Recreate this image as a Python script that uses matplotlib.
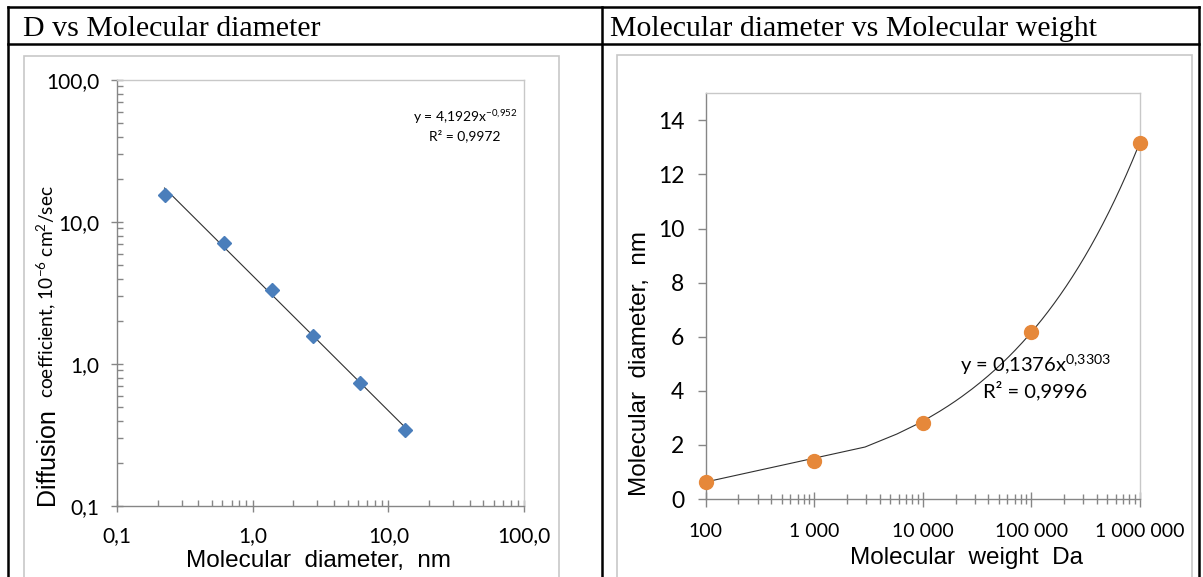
import numpy as np
import matplotlib
matplotlib.use("Agg")
import matplotlib.pyplot as plt
from matplotlib.lines import Line2D
from matplotlib.patches import Rectangle
from matplotlib.ticker import FixedLocator, FuncFormatter, LogLocator, NullFormatter

plt.rcParams['mathtext.fontset'] = 'custom'
plt.rcParams['mathtext.rm'] = 'Lato'
plt.rcParams['mathtext.it'] = 'Lato:italic'
plt.rcParams['mathtext.bf'] = 'Lato:bold'

# ---- data ----
diam_nm = [0.225, 0.619, 1.40, 2.79, 6.14, 13.2]
diff_coef = [15.4, 7.14, 3.34, 1.57, 0.734, 0.344]
fit1_a, fit1_b = 4.1929, -0.952

mol_weight = [100, 1000, 10000, 100000, 1000000]
mol_diam = [0.62, 1.39, 2.81, 6.19, 13.18]
fit2_a, fit2_b = 0.1376, 0.3303

left_ticks = [0.1, 1, 10, 100]
right_xticks = [100, 1000, 10000, 100000, 1000000]
right_yticks = [0, 2, 4, 6, 8, 10, 12, 14]

W, H = 1203, 577
AXIS_GRAY = '#868686'
FRAME_GRAY = '#C8C8C8'
TICK_FONT = 'Lato'
LABEL_FONT = 'Liberation Sans'


def fx(x):
    return x / W


def fy(y):
    return 1 - y / H


def ax_rect(x0, x1, top, bottom):
    return [fx(x0), fy(bottom), (x1 - x0) / W, (bottom - top) / H]


fig = plt.figure(figsize=(W / 100, H / 100), dpi=100)

# ---- table frame ----
for (x0, y0, x1, y1) in [(8, 7, 1199, 7), (8, 44, 1199, 44),
                         (8, 7, 8, 577), (602, 7, 602, 577), (1199, 7, 1199, 577)]:
    fig.add_artist(Line2D([fx(x0), fx(x1)], [fy(y0), fy(y1)], color='black',
                          lw=1.8, transform=fig.transFigure))
fig.text(fx(23), fy(36), 'D vs Molecular diameter', family='Liberation Serif',
         fontsize=21.5, va='baseline', ha='left')
fig.text(fx(610), fy(36), 'Molecular diameter vs Molecular weight',
         family='Liberation Serif', fontsize=21.5, va='baseline', ha='left')

# chart boxes
for (x0, x1, top) in [(24, 559, 56), (617, 1192, 55)]:
    fig.add_artist(Rectangle((fx(x0), fy(600)), (x1 - x0) / W, (600 - top) / H,
                             fill=False, edgecolor=FRAME_GRAY, lw=1.2,
                             transform=fig.transFigure))


def style_spines(ax):
    for s in ['left', 'bottom']:
        ax.spines[s].set_color(AXIS_GRAY)
        ax.spines[s].set_linewidth(1.0)
    for s in ['top', 'right']:
        ax.spines[s].set_color(FRAME_GRAY)
        ax.spines[s].set_linewidth(1.0)


def comma_fmt(v, pos):
    return f"{v:.1f}".replace('.', ',')


def space_fmt(v, pos):
    return f"{int(round(v)):,}".replace(',', ' ')


# ---- left chart ----
ax1 = fig.add_axes(ax_rect(116.7, 524.3, 80, 506))
ax1.set_xscale('log')
ax1.set_yscale('log')
ax1.set_xlim(0.1, 100)
ax1.set_ylim(0.1, 100)
style_spines(ax1)

xs = np.linspace(diam_nm[0], diam_nm[-1], 86)
ax1.plot(xs, fit1_a * xs ** fit1_b, color='#303030', lw=0.8, zorder=2)
ax1.plot(diam_nm, diff_coef, linestyle='none', marker='D', ms=6.8,
         color='#4A7EBB', zorder=3)

for axis in (ax1.xaxis, ax1.yaxis):
    axis.set_major_locator(FixedLocator(left_ticks))
    axis.set_major_formatter(FuncFormatter(comma_fmt))
    axis.set_minor_locator(LogLocator(base=10, subs=np.arange(2, 10)))
    axis.set_minor_formatter(NullFormatter())
ax1.tick_params(which='major', direction='inout', length=8.5, width=1,
                color=AXIS_GRAY, labelsize=15, pad=8)
ax1.tick_params(axis='x', which='major', pad=10)
ax1.tick_params(which='minor', direction='in', length=4.3, width=1,
                color=AXIS_GRAY)
ax1.tick_params(top=False, right=False, which='both')
for lab in ax1.get_xticklabels() + ax1.get_yticklabels():
    lab.set_family(TICK_FONT)

ax1.text(0.855, 0.893, 'y = 4,1929x$^{-0{,}952}$\nR² = 0,9972',
         transform=ax1.transAxes, ha='center', va='center', fontsize=10,
         family=TICK_FONT, linespacing=1.3)

fig.text(fx(318), fy(561), 'Molecular  diameter,  nm', family=LABEL_FONT,
         fontsize=17.5, ha='center', va='center')
fig.text(fx(53.5), fy(505), 'Diffusion', family=LABEL_FONT, fontsize=18,
         rotation=90, rotation_mode='anchor', ha='left', va='baseline')
fig.text(fx(53.5), fy(398), r'coefficient, 10$^{-6}$ cm$^{2}$/sec',
         family=TICK_FONT, fontsize=13.8, rotation=90, rotation_mode='anchor',
         ha='left', va='baseline')

# ---- right chart ----
ax2 = fig.add_axes(ax_rect(705.8, 1140, 93.3, 499))
ax2.set_xscale('log')
ax2.set_xlim(100, 1000000)
ax2.set_ylim(0, 15)
style_spines(ax2)

xs2 = np.linspace(mol_weight[0], mol_weight[-1], 354)
ax2.plot(xs2, fit2_a * xs2 ** fit2_b, color='#303030', lw=0.8, zorder=2)
ax2.plot(mol_weight, mol_diam, linestyle='none', marker='o', ms=10,
         color='#E6883A', zorder=3, clip_on=False)

ax2.xaxis.set_major_locator(FixedLocator(right_xticks))
ax2.xaxis.set_major_formatter(FuncFormatter(space_fmt))
ax2.xaxis.set_minor_locator(LogLocator(base=10, subs=np.arange(2, 10)))
ax2.xaxis.set_minor_formatter(NullFormatter())
ax2.yaxis.set_major_locator(FixedLocator(right_yticks))
ax2.tick_params(axis='x', which='major', direction='inout', length=10.8,
                width=1, color=AXIS_GRAY, labelsize=14, pad=12)
ax2.tick_params(axis='x', which='minor', direction='inout', length=7.2,
                width=1, color=AXIS_GRAY)
ax2.tick_params(axis='y', which='major', direction='out', length=5.5,
                width=1, color=AXIS_GRAY, labelsize=16.5, pad=10)
ax2.tick_params(top=False, right=False, which='both')
for lab in ax2.get_xticklabels() + ax2.get_yticklabels():
    lab.set_family(TICK_FONT)

ax2.text(0.759, 0.302, 'y = 0,1376x$^{0{,}3303}$\nR² = 0,9996',
         transform=ax2.transAxes, ha='center', va='center', fontsize=14.5,
         family=TICK_FONT, linespacing=1.2)

fig.text(fx(967), fy(558), 'Molecular  weight  Da', family=LABEL_FONT,
         fontsize=17.5, ha='center', va='center')
fig.text(fx(640), fy(364), 'Molecular  diameter,  nm', family=LABEL_FONT,
         fontsize=17.5, rotation=90, ha='center', va='center')

fig.savefig('out.png', dpi=100)
